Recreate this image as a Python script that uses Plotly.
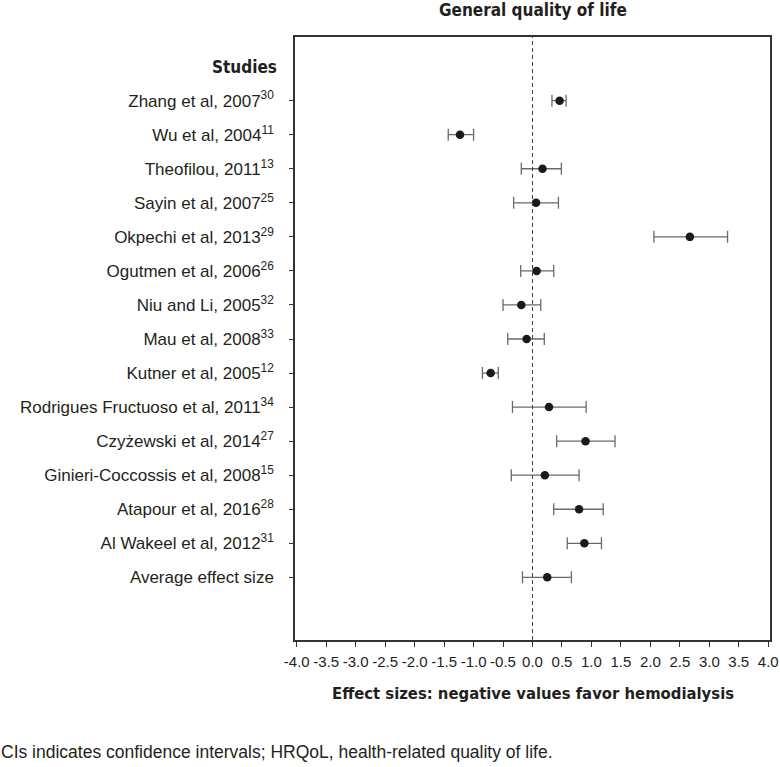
import plotly.graph_objects as go

studies = [
    "Zhang et al, 2007<sup>30</sup>",
    "Wu et al, 2004<sup>11</sup>",
    "Theofilou, 2011<sup>13</sup>",
    "Sayin et al, 2007<sup>25</sup>",
    "Okpechi et al, 2013<sup>29</sup>",
    "Ogutmen et al, 2006<sup>26</sup>",
    "Niu and Li, 2005<sup>32</sup>",
    "Mau et al, 2008<sup>33</sup>",
    "Kutner et al, 2005<sup>12</sup>",
    "Rodrigues Fructuoso et al, 2011<sup>34</sup>",
    "Czyżewski et al, 2014<sup>27</sup>",
    "Ginieri-Coccossis et al, 2008<sup>15</sup>",
    "Atapour et al, 2016<sup>28</sup>",
    "Al Wakeel et al, 2012<sup>31</sup>",
    "Average effect size",
]
effect = [0.46, -1.23, 0.17, 0.06, 2.67, 0.07, -0.19, -0.10, -0.71, 0.28, 0.90, 0.21, 0.79, 0.88, 0.25]
ci_low = [0.33, -1.43, -0.19, -0.32, 2.06, -0.20, -0.50, -0.42, -0.85, -0.34, 0.41, -0.36, 0.36, 0.59, -0.17]
ci_high = [0.57, -1.00, 0.49, 0.44, 3.31, 0.36, 0.14, 0.20, -0.58, 0.91, 1.40, 0.79, 1.20, 1.17, 0.66]
x_ticks = [-4.0, -3.5, -3.0, -2.5, -2.0, -1.5, -1.0, -0.5, 0.0, 0.5, 1.0, 1.5, 2.0, 2.5, 3.0, 3.5, 4.0]

n = len(studies)
ypos = list(range(n, 0, -1))

REG = "Liberation Sans, Arial, sans-serif"
BOLD = "DejaVu Sans Condensed, Liberation Sans Narrow, sans-serif"

fig = go.Figure()
fig.add_trace(go.Scatter(
    x=effect, y=ypos, mode="markers",
    marker=dict(color="#1a1a1a", size=8.5, symbol="circle"),
    error_x=dict(
        type="data", symmetric=False,
        array=[h - e for h, e in zip(ci_high, effect)],
        arrayminus=[e - l for e, l in zip(effect, ci_low)],
        color="#6a6a6a", thickness=1.3, width=6,
    ),
    showlegend=False, hoverinfo="skip",
))

fig.add_shape(type="line", x0=0, x1=0, y0=0, y1=1, xref="x", yref="paper",
              line=dict(color="#444444", width=1, dash="4px,3px"))

fig.update_layout(
    width=780, height=767,
    margin=dict(l=295, r=10, t=37, b=127),
    plot_bgcolor="white", paper_bgcolor="white",
    font=dict(family=REG, color="#231f20", size=17),
    xaxis=dict(
        range=[-4.03, 4.03], tickvals=x_ticks,
        ticktext=[f"{v:.1f}" for v in x_ticks],
        ticks="outside", ticklen=5, tickwidth=1.2, tickcolor="#333",
        showline=True, linecolor="#333", linewidth=1.5, mirror=True,
        showgrid=False, zeroline=False, automargin=False,
        tickfont=dict(size=15, family=REG), ticklabelstandoff=2,
    ),
    yaxis=dict(
        range=[-0.84, n + 1.87], tickvals=ypos, ticktext=studies,
        ticks="outside", ticklen=4, tickwidth=1.2, tickcolor="#333",
        showline=True, linecolor="#333", linewidth=1.5, mirror=True,
        showgrid=False, zeroline=False, automargin=False,
        tickfont=dict(size=17, family=REG), ticklabelstandoff=12,
    ),
    annotations=[
        dict(text="<b>General quality of life</b>", x=0.5, y=1, xref="paper", yref="paper",
             xanchor="center", yanchor="middle", yshift=27, showarrow=False,
             font=dict(size=17, family=BOLD)),
        dict(text="<b>Studies</b>", x=0, y=n + 1, xref="paper", yref="y",
             xanchor="right", yanchor="middle", xshift=-16, showarrow=False,
             font=dict(size=17, family=BOLD)),
        dict(text="<b>Effect sizes: negative values favor hemodialysis</b>", x=0.5, y=0,
             xref="paper", yref="paper", xanchor="center", yanchor="middle", yshift=-53,
             showarrow=False, font=dict(size=16.5, family=BOLD)),
        dict(text="CIs indicates confidence intervals; HRQoL, health-related quality of life.",
             x=0, y=0, xref="paper", yref="paper", xanchor="left", yanchor="middle",
             xshift=-296, yshift=-112, showarrow=False, font=dict(size=17.5, family=REG)),
    ],
)

fig.write_html("out.html", config={"displayModeBar": False},
               post_script="document.body.style.margin='0';document.body.style.overflow='hidden';")
